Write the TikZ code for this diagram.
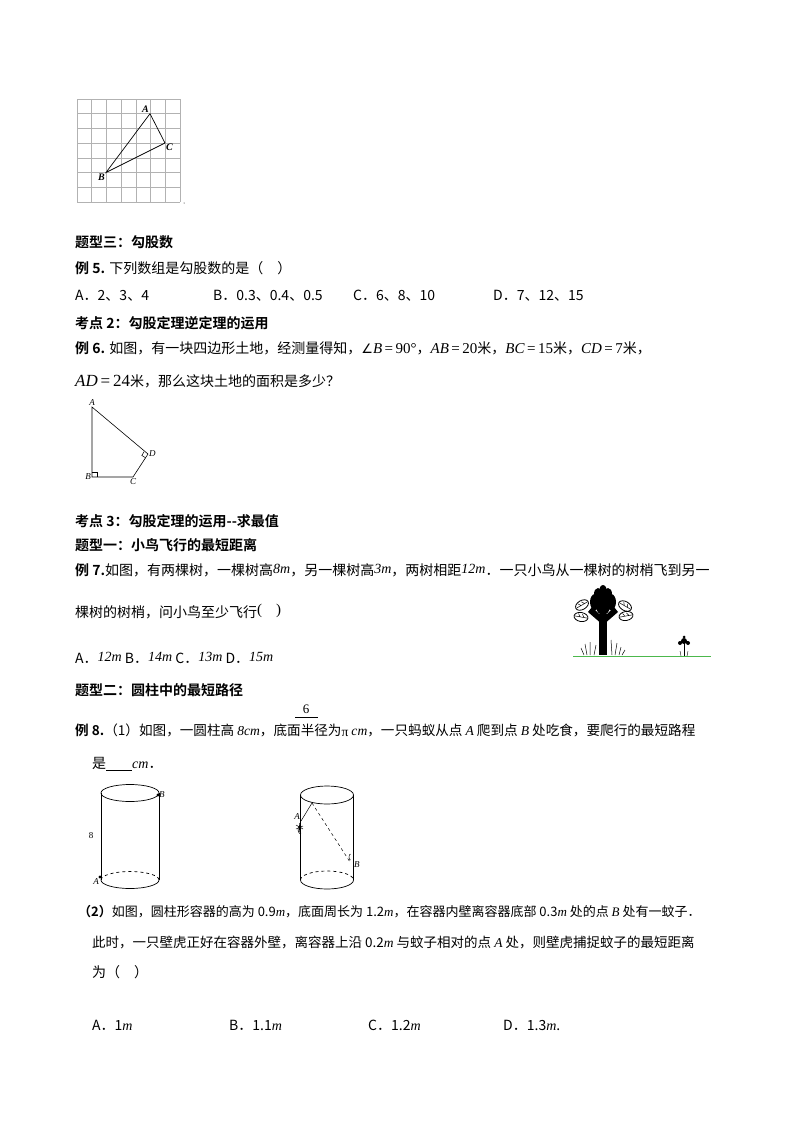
\documentclass[tikz,border=0pt]{standalone}
\usepackage{fontspec}
\setmainfont{Liberation Serif}
\newfontfamily\cjk{Noto Sans CJK SC}
\newfontfamily\cjkb{Noto Sans CJK SC Bold}
\newfontfamily\dvs{DejaVu Sans}
\newcommand{\tm}[1]{{\rmfamily\itshape #1}}
\begin{document}
\begin{tikzpicture}[x=1pt,y=-1pt,
  txt/.style={anchor=west,inner sep=0pt,font=\fontsize{14}{15}\selectfont\cjk},
  hd/.style={anchor=west,inner sep=0pt,font=\fontsize{14}{15}\selectfont\cjkb},
  lbl/.style={inner sep=1pt,font=\fontsize{9}{10}\selectfont\rmfamily\itshape},
  fig/.style={line width=0.7pt}]
\useasboundingbox (0,0) rectangle (800,1132);
\fill[white] (0,0) rectangle (800,1132);
% grid figure
\foreach \i in {0,...,7} {
  \draw[gray!60,line width=0.5pt] (77+14.7*\i,99) -- (77+14.7*\i,201.9);
  \draw[gray!60,line width=0.5pt] (77,99+14.7*\i) -- (179.9,99+14.7*\i);}
\coordinate (gA) at (150,113.7);
\coordinate (gC) at (165,143);
\coordinate (gB) at (106,172.5);
\draw[fig] (gA) -- (gC) -- (gB) -- cycle;
\node[lbl,anchor=south east,font=\fontsize{10}{10}\selectfont\rmfamily\bfseries\itshape] at (gA) {A};
\node[lbl,anchor=north west,font=\fontsize{10}{10}\selectfont\rmfamily\bfseries\itshape] at (gC) {C};
\node[lbl,anchor=north east,font=\fontsize{10}{10}\selectfont\rmfamily\bfseries\itshape] at (gB) {B};
\fill (184,203) circle (0.5);
% texts
\node[hd] (t3) at (75,242) {题型三：勾股数};
\node[txt] (e5) at (75,268) {{\cjkb 例 5.} 下列数组是勾股数的是（\quad ）};
\node[txt] at (75,296) {A．2、3、4};
\node[txt] at (213,296) {B．0.3、0.4、0.5};
\node[txt] at (353,296) {C．6、8、10};
\node[txt] at (493,296) {D．7、12、15};
\node[hd] at (75,323) {考点 2：勾股定理逆定理的运用};
\node[txt] at (75,348) {{\cjkb 例 6.} 如图，有一块四边形土地，经测量得知，{\fontsize{15}{15}\selectfont\rmfamily {\dvs\fontsize{13}{13}\selectfont ∠}\tm{B}\,=\,90°}，{\fontsize{15}{15}\selectfont\rmfamily \tm{AB}\,=\,20}米，{\fontsize{15}{15}\selectfont\rmfamily \tm{BC}\,=\,15}米，{\fontsize{15}{15}\selectfont\rmfamily \tm{CD}\,=\,7}米，};
\node[txt] at (75,381) {{\fontsize{17}{17}\selectfont\rmfamily \tm{AD}\,=\,24}米，那么这块土地的面积是多少？};
% quadrilateral
\coordinate (qA) at (92,407);
\coordinate (qB) at (92,477);
\coordinate (qC) at (133,477);
\coordinate (qD) at (148,454);
\draw[line width=0.6pt] (qA) -- (qB) -- (qC) -- (qD) -- cycle;
\draw[line width=0.5pt] (92,472) -- (97,472) -- (97,477);
\draw[line width=0.5pt,shift={(qD)},rotate=-32] (-4.5,0) -- (-4.5,4.5) -- (0,4.5);
\node[lbl,anchor=south] at (qA) {A};
\node[lbl,anchor=east] at (qB) {B};
\node[lbl,anchor=north] at (qC) {C};
\node[lbl,anchor=west] at (qD) {D};
\node[hd] at (75,521) {考点 3：勾股定理的运用--求最值};
\node[hd] at (75,545) {题型一：小鸟飞行的最短距离};
\node[txt] at (75,570) {{\cjkb 例 7.}如图，有两棵树，一棵树高\raisebox{2pt}{\fontsize{14}{14}\selectfont\tm{8m}}，另一棵树高\raisebox{2pt}{\fontsize{14}{14}\selectfont\tm{3m}}，两树相距\raisebox{2pt}{\fontsize{14}{14}\selectfont\tm{12m}}．一只小鸟从一棵树的树梢飞到另一};
\node[txt] at (75,612) {棵树的树梢，问小鸟至少飞行\raisebox{3pt}{\fontsize{15}{15}\selectfont\rmfamily (\hspace{14pt})}};
\node[txt] at (75,658) {A．\raisebox{2pt}{\fontsize{14}{14}\selectfont\tm{12m}} B．\raisebox{2pt}{\fontsize{14}{14}\selectfont\tm{14m}} C．\raisebox{2pt}{\fontsize{14}{14}\selectfont\tm{13m}} D．\raisebox{2pt}{\fontsize{14}{14}\selectfont\tm{15m}}};
% trees
\draw[green!60!black!70,line width=0.8pt] (573,656.5) -- (711,656.5);
\fill (599,614) rectangle (607,655);
\fill (603,625) -- (588,612) -- (592,607) -- (603,618) -- (614,607) -- (618,612) -- cycle;
\foreach \a/\b/\r/\s in {603/606/7/9,595/602/5/8,611/602/5/8,598/594/4/6,608/594/4/6,603/592/4/7}
  \fill (\a,\b) ellipse [x radius=\r, y radius=\s];
\foreach \a/\b/\ang in {582/605/30,581/617/-10,625/606/-30,626/616/10}
  {\draw[fill=white,line width=0.8pt,rotate around={\ang:(\a,\b)}] (\a,\b) ellipse [x radius=7, y radius=4.5];
   \draw[line width=0.5pt,rotate around={\ang:(\a,\b)}] (\a-6,\b) -- (\a+6,\b) (\a-3,\b-3) -- (\a-1,\b) (\a+1,\b-3) -- (\a+3,\b);}
\draw[line width=0.5pt] (587,655) -- (585,644) (590,655) -- (590,642) (594,655) -- (596,645) (584,655) -- (581,648) (612,655) -- (611,640) (615,655) -- (617,643) (619,655) -- (621,647) (622,655) -- (625,650);
\fill (683.5,642) rectangle (685,656);
\fill (684,641) circle (3) (680,643) circle (2) (688,643) circle (2) (684,637) circle (1.5);
\draw[line width=0.4pt] (681,656) -- (680,651) (687,656) -- (688,651);
\node[hd] at (75,690) {题型二：圆柱中的最短路径};
\node[txt,font=\fontsize{13.6}{15}\selectfont\cjk] at (75,730) {{\cjkb 例 8.}（1）如图，一圆柱高 \tm{8cm}，底面半径为\raisebox{-1pt}{\rmfamily π} \tm{cm}，一只蚂蚁从点 \tm{A} 爬到点 \tm{B} 处吃食，要爬行的最短路程};
\draw[line width=0.9pt] (295,717) -- (318,717);
\node[inner sep=0pt,font=\fontsize{13}{13}\selectfont\rmfamily] at (306,709) {6};
\node[txt] at (92,764) {是\underline{\hspace{26pt}}\tm{cm}．};
% cylinder 1
\draw[fig] (130,793) ellipse (29 and 8.5);
\draw[fig] (101,793) -- (101,880) (159,793) -- (159,880);
\draw[fig] (101,880) arc (180:0:29 and 8.5);
\draw[fig,dashed] (101,880) arc (180:360:29 and 8.5);
\coordinate (c1B) at (158,795);
\coordinate (c1A) at (100,877);
\fill (c1B) circle (1.6) (c1A) circle (1.6);
\node[lbl,anchor=west] at (c1B) {B};
\node[lbl,anchor=north east] at (c1A) {A};
\node[inner sep=0pt,font=\fontsize{9}{9}\selectfont\rmfamily] at (91,836) {8};
% cylinder 2
\draw[fig] (327,795) ellipse (26.5 and 9);
\draw[fig] (300.5,795) -- (300.5,880) (353.5,795) -- (353.5,880);
\draw[fig] (300.5,880) arc (180:0:26.5 and 9);
\draw[fig,dashed] (300.5,880) arc (180:360:26.5 and 9);
\coordinate (c2A) at (301,821);
\coordinate (c2T) at (312,803);
\coordinate (c2B) at (350,862);
\draw[line width=0.5pt] (c2A) -- (c2T);
\draw[line width=0.5pt,dashed] (c2T) -- (c2B);
\node[lbl,anchor=south east] at (c2A) {A};
\node[lbl,anchor=west] at (353,865) {B};
\draw[line width=0.5pt] (350.5,860) arc (90:270:1.5 and 3);
\draw[line width=1pt] (300,823) -- (299,832);
\draw[line width=0.5pt] (296,825) -- (303,829) (296,829) -- (303,826);
\draw[line width=0.5pt] (301,833) arc (60:300:2 and 4);
% part 2
\node[txt,font=\fontsize{13}{15}\selectfont\cjk] at (78,912) {{\cjkb （2）}如图，圆柱形容器的高为 0.9\tm{m}，底面周长为 1.2\tm{m}，在容器内壁离容器底部 0.3\tm{m} 处的点 \tm{B} 处有一蚊子．};
\node[txt,font=\fontsize{13.5}{15}\selectfont\cjk] at (92,942) {此时，一只壁虎正好在容器外壁，离容器上沿 0.2\tm{m} 与蚊子相对的点 \tm{A} 处，则壁虎捕捉蚊子的最短距离};
\node[txt] at (92,972) {为（\quad ）};
\node[txt] at (92,1025) {A．1\tm{m}};
\node[txt] at (229,1025) {B．1.1\tm{m}};
\node[txt] at (368,1025) {C．1.2\tm{m}};
\node[txt] at (503,1025) {D．1.3\tm{m}.};
\end{tikzpicture}
\end{document}
